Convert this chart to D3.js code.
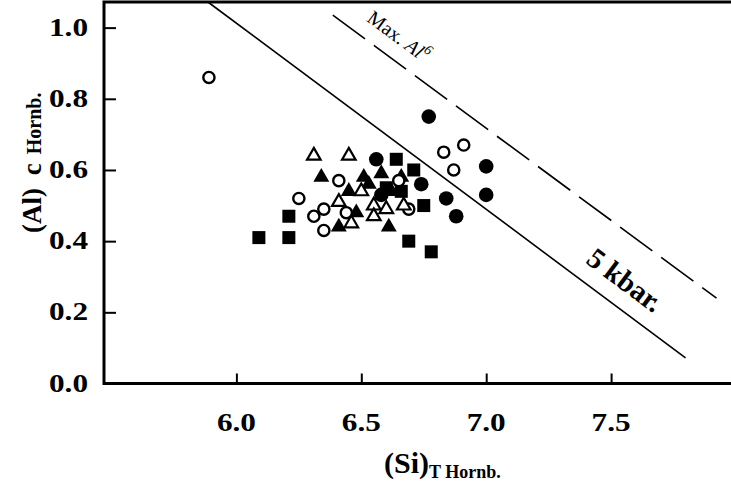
<!DOCTYPE html>
<html>
<head>
<meta charset="utf-8">
<script src="https://cdn.jsdelivr.net/npm/d3@7"></script>
<style>
  body { margin: 0; background: #fff; }
  svg { display: block; font-family: 'Liberation Serif', 'Times New Roman', serif; }
</style>
</head>
<body>
<div id="chart"></div>
<script>
const width = 731;
const height = 484;

// hornblende analyses: [Si (T site), Al (C site)]
const filledSquares = [
  [6.09, 0.41], [6.21, 0.47], [6.21, 0.41], [6.64, 0.63], [6.71, 0.60],
  [6.75, 0.50], [6.69, 0.40], [6.78, 0.37], [6.60, 0.55], [6.66, 0.54]
];
const filledTriangles = [
  [6.34, 0.58], [6.51, 0.58], [6.58, 0.59], [6.66, 0.58], [6.45, 0.54],
  [6.53, 0.56], [6.62, 0.54], [6.41, 0.44], [6.61, 0.44], [6.48, 0.48]
];
const filledCircles = [
  [6.56, 0.63], [6.74, 0.56], [6.77, 0.75], [7.00, 0.61], [7.00, 0.53],
  [6.84, 0.52], [6.88, 0.47], [6.58, 0.53]
];
const openCircles = [
  [5.89, 0.86], [6.41, 0.57], [6.25, 0.52], [6.31, 0.47], [6.35, 0.49],
  [6.35, 0.43], [6.44, 0.48], [6.65, 0.57], [6.69, 0.49], [6.83, 0.65],
  [6.91, 0.67], [6.87, 0.60]
];
const openTriangles = [
  [6.31, 0.64], [6.45, 0.64], [6.41, 0.51], [6.50, 0.54], [6.55, 0.50],
  [6.60, 0.49], [6.67, 0.50], [6.46, 0.45], [6.55, 0.47]
];

// reference lines (end points)
const kbarLine = [[5.886, 1.072], [7.798, 0.072]];
const maxAlLine = [[6.386, 1.035], [7.922, 0.240]];

const xTicks = [6.0, 6.5, 7.0, 7.5];
const yTicks = [0.0, 0.2, 0.4, 0.6, 0.8, 1.0];

const x = d3.scaleLinear().domain([5.47, 8.0]).range([104, 736]);
const y = d3.scaleLinear().domain([0, 1.072]).range([383.5, 2]);

const svg = d3
  .select('#chart')
  .append('svg')
  .attr('width', width)
  .attr('height', height);

svg.append('rect').attr('width', width).attr('height', height).attr('fill', '#fff');

// ticks (inward)
svg
  .append('g')
  .attr('transform', 'translate(104,0)')
  .call(d3.axisLeft(y).tickValues(yTicks.slice(1)).tickSizeInner(-12).tickSizeOuter(0).tickFormat(''))
  .call(g => g.select('.domain').remove())
  .selectAll('line')
  .attr('stroke', '#000')
  .attr('stroke-width', 2);

svg
  .append('g')
  .attr('transform', 'translate(0,383.5)')
  .call(d3.axisBottom(x).tickValues(xTicks).tickSizeInner(-10).tickSizeOuter(0).tickFormat(''))
  .call(g => g.select('.domain').remove())
  .selectAll('line')
  .attr('stroke', '#000')
  .attr('stroke-width', 2);

// frame
svg
  .append('path')
  .attr('d', `M${x(8.0)},${y(1.072)}H${x(5.47)}V${y(0)}H${x(8.0)}`)
  .attr('fill', 'none')
  .attr('stroke', '#000')
  .attr('stroke-width', 3);

// tick labels
svg
  .selectAll('text.ylab')
  .data(yTicks)
  .enter()
  .append('text')
  .attr('class', 'ylab')
  .attr('transform', d => `translate(88,${y(d) + 8}) scale(1.25,1)`)
  .attr('text-anchor', 'end')
  .style('font-size', '25px')
  .style('font-weight', 'bold')
  .text(d3.format('.1f'));

svg
  .selectAll('text.xlab')
  .data(xTicks)
  .enter()
  .append('text')
  .attr('class', 'xlab')
  .attr('transform', d => `translate(${x(d)},431) scale(1.25,1)`)
  .attr('text-anchor', 'middle')
  .style('font-size', '25px')
  .style('font-weight', 'bold')
  .text(d3.format('.1f'));

// axis titles
const yTitle = svg
  .append('text')
  .attr('transform', 'translate(41,233) rotate(-90)')
  .style('font-weight', 'bold')
  .style('font-size', '27px');
yTitle.append('tspan').text('(Al)');
yTitle.append('tspan').attr('dx', 6).text(' c');
yTitle.append('tspan').attr('dx', 4).style('font-size', '20px').text(' Hornb.');

const xTitle = svg
  .append('text')
  .attr('x', 384)
  .attr('y', 473)
  .style('font-weight', 'bold')
  .style('font-size', '30px');
xTitle.append('tspan').text('(Si)');
xTitle.append('tspan').attr('dy', 5).style('font-size', '18px').text('T Hornb.');

// lines
const line = d3.line().x(d => x(d[0])).y(d => y(d[1]));

svg
  .append('path')
  .attr('d', line(kbarLine))
  .attr('fill', 'none')
  .attr('stroke', '#000')
  .attr('stroke-width', 1.6);

svg
  .append('path')
  .attr('d', line(maxAlLine))
  .attr('fill', 'none')
  .attr('stroke', '#000')
  .attr('stroke-width', 1.6)
  .attr('stroke-dasharray', '40,11');

const angle = (l) =>
  (Math.atan2(y(l[1][1]) - y(l[0][1]), x(l[1][0]) - x(l[0][0])) * 180) / Math.PI;

const maxLab = svg
  .append('text')
  .attr('transform', `translate(${x(6.65)},${y(0.976)}) rotate(${angle(maxAlLine)})`)
  .attr('text-anchor', 'middle')
  .attr('dominant-baseline', 'central')
  .style('font-size', '20px');
maxLab.append('tspan').text('Max. ');
maxLab.append('tspan').style('font-style', 'italic').text('Al');
maxLab.append('tspan').attr('dy', -7).style('font-size', '14px').style('font-style', 'italic').text('6');

svg
  .append('text')
  .attr('transform', `translate(${x(7.556)},${y(0.291)}) rotate(${angle(kbarLine)})`)
  .attr('text-anchor', 'middle')
  .attr('dominant-baseline', 'central')
  .style('font-size', '29px')
  .style('font-weight', 'bold')
  .text('5 kbar.');

// markers
const pts = svg.append('g');
const sq = 13;

pts
  .selectAll('rect')
  .data(filledSquares)
  .enter()
  .append('rect')
  .attr('x', d => x(d[0]) - sq / 2)
  .attr('y', d => y(d[1]) - sq / 2)
  .attr('width', sq)
  .attr('height', sq)
  .attr('fill', '#000');

const tri = d3.symbol().type(d3.symbolTriangle);

pts
  .selectAll('path.ftri')
  .data(filledTriangles)
  .enter()
  .append('path')
  .attr('class', 'ftri')
  .attr('d', tri.size(110)())
  .attr('transform', d => `translate(${x(d[0])},${y(d[1])})`)
  .attr('fill', '#000');

pts
  .selectAll('circle.fc')
  .data(filledCircles)
  .enter()
  .append('circle')
  .attr('class', 'fc')
  .attr('cx', d => x(d[0]))
  .attr('cy', d => y(d[1]))
  .attr('r', 7.3)
  .attr('fill', '#000');

pts
  .selectAll('circle.oc')
  .data(openCircles)
  .enter()
  .append('circle')
  .attr('class', 'oc')
  .attr('cx', d => x(d[0]))
  .attr('cy', d => y(d[1]))
  .attr('r', 5.6)
  .attr('fill', '#fff')
  .attr('stroke', '#000')
  .attr('stroke-width', 2.4);

pts
  .selectAll('path.otri')
  .data(openTriangles)
  .enter()
  .append('path')
  .attr('class', 'otri')
  .attr('d', tri.size(80)())
  .attr('transform', d => `translate(${x(d[0])},${y(d[1])})`)
  .attr('fill', '#fff')
  .attr('stroke', '#000')
  .attr('stroke-width', 2.2);
</script>
</body>
</html>
